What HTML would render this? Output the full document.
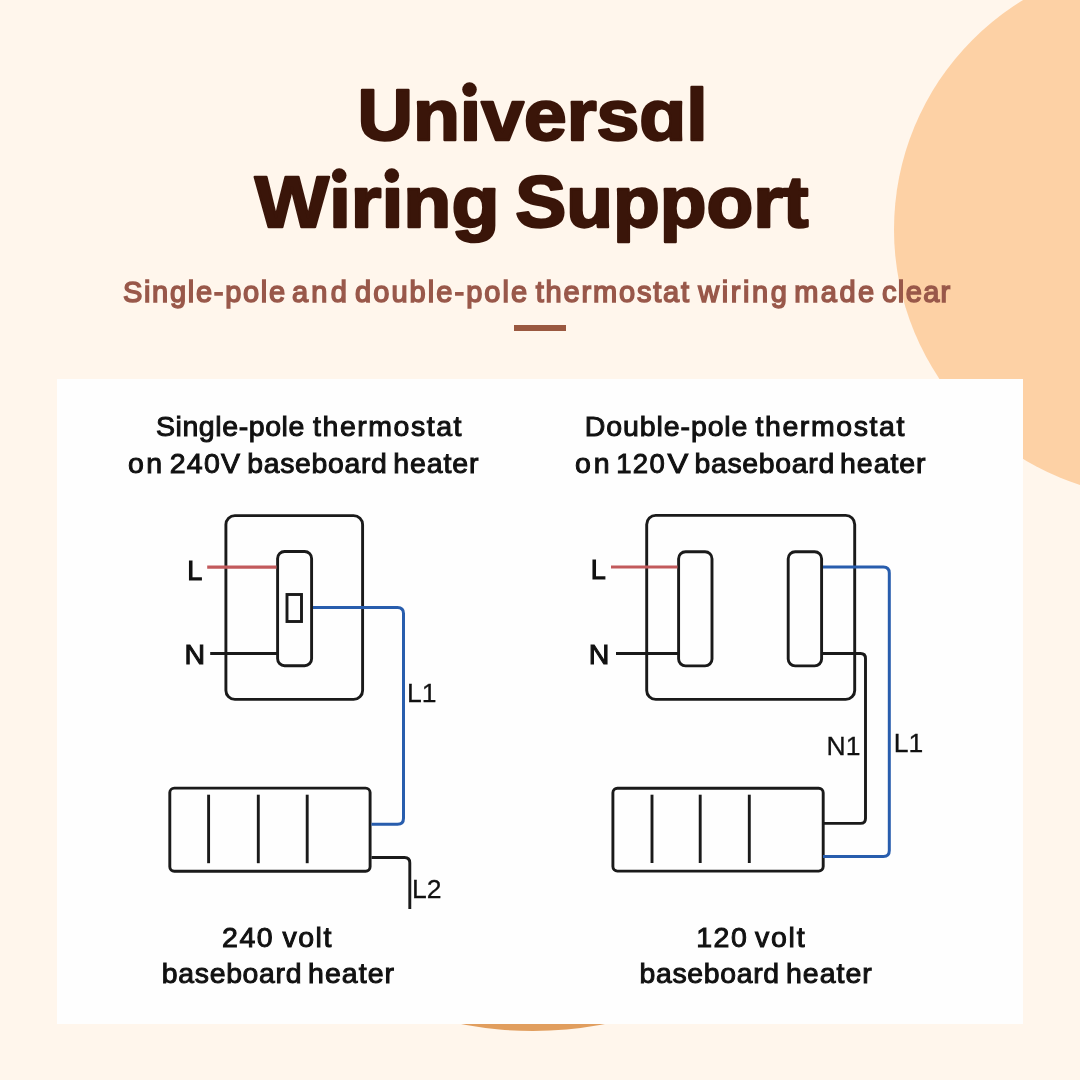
<!DOCTYPE html>
<html>
<head>
<meta charset="utf-8">
<style>
html,body{margin:0;padding:0;}
body{width:1080px;height:1080px;overflow:hidden;background:#FFF6EC;position:relative;font-family:"Liberation Sans",sans-serif;}
.circ{position:absolute;border-radius:50%;}
#c1{left:894px;top:-39px;width:537px;height:537px;background:#FDD1A5;}
#c2{left:191px;top:409.5px;width:684px;height:621px;background:#E19E5E;}
#card{position:absolute;left:57px;top:379px;width:965.5px;height:645px;background:#FEFEFE;}
svg{position:absolute;left:0;top:0;will-change:transform;}
</style>
</head>
<body>
<div class="circ" id="c1"></div>
<div class="circ" id="c2"></div>
<div id="card"></div>
<svg width="1080" height="1080" viewBox="0 0 1080 1080">
  <g font-family="Liberation Sans, sans-serif">
    <rect x="514" y="325" width="52" height="6" fill="#9A5840"/>
    <text x="357.40" y="140.2" font-size="72" font-weight="700" fill="#3A1509" stroke="#3A1509" stroke-width="2.4" stroke-linejoin="round" textLength="350.20" lengthAdjust="spacingAndGlyphs">Unıversɑl</text>
    <text x="254.70" y="226.8" font-size="72" font-weight="700" fill="#3A1509" stroke="#3A1509" stroke-width="2.4" stroke-linejoin="round" textLength="244.80" lengthAdjust="spacingAndGlyphs">Wırıng</text>
    <text x="515.20" y="226.8" font-size="72" font-weight="700" fill="#3A1509" stroke="#3A1509" stroke-width="2.4" stroke-linejoin="round" textLength="293.20" lengthAdjust="spacingAndGlyphs">Support</text>
    <circle cx="469.5" cy="89.6" r="7.3" fill="#3A1509"/>
    <circle cx="339.2" cy="175.6" r="7.3" fill="#3A1509"/>
    <circle cx="391.8" cy="175.6" r="7.3" fill="#3A1509"/>
    <text transform="translate(155.91 436.2) scale(1.000 1)" font-size="28.5" fill="#111" stroke="#111" stroke-width="1.0" textLength="148.45" lengthAdjust="spacing">Single-pole</text>
    <text transform="translate(313.07 436.2) scale(1.000 1)" font-size="28.5" fill="#111" stroke="#111" stroke-width="1.0" textLength="148.40" lengthAdjust="spacing">thermostat</text>
    <text transform="translate(128.10 473.4) scale(1.000 1)" font-size="28.5" fill="#111" stroke="#111" stroke-width="1.0" textLength="33.92" lengthAdjust="spacing">on</text>
    <text transform="translate(169.77 473.4) scale(1.000 1)" font-size="28.5" fill="#111" stroke="#111" stroke-width="1.0" textLength="70.34" lengthAdjust="spacing">240V</text>
    <text transform="translate(247.37 473.4) scale(0.996 1)" font-size="28.5" fill="#111" stroke="#111" stroke-width="1.0" textLength="140.07" lengthAdjust="spacing">baseboard</text>
    <text transform="translate(393.22 473.4) scale(1.000 1)" font-size="28.5" fill="#111" stroke="#111" stroke-width="1.0" textLength="85.27" lengthAdjust="spacing">heater</text>
    <text transform="translate(584.86 436.2) scale(1.000 1)" font-size="28.5" fill="#111" stroke="#111" stroke-width="1.0" textLength="162.59" lengthAdjust="spacing">Double-pole</text>
    <text transform="translate(755.47 436.2) scale(1.000 1)" font-size="28.5" fill="#111" stroke="#111" stroke-width="1.0" textLength="148.90" lengthAdjust="spacing">thermostat</text>
    <text transform="translate(575.10 473.4) scale(1.000 1)" font-size="28.5" fill="#111" stroke="#111" stroke-width="1.0" textLength="34.43" lengthAdjust="spacing">on</text>
    <text transform="translate(616.20 473.4) scale(0.966 1)" font-size="28.5" fill="#111" stroke="#111" stroke-width="1.0" textLength="50.28" lengthAdjust="spacing">120</text>
    <text transform="translate(667.47 473.4) scale(1.029 1)" font-size="28.5" fill="#111" stroke="#111" stroke-width="1.0" textLength="20.18" lengthAdjust="spacingAndGlyphs">V</text>
    <text transform="translate(694.57 473.4) scale(0.997 1)" font-size="28.5" fill="#111" stroke="#111" stroke-width="1.0" textLength="140.07" lengthAdjust="spacing">baseboard</text>
    <text transform="translate(840.12 473.4) scale(1.000 1)" font-size="28.5" fill="#111" stroke="#111" stroke-width="1.0" textLength="85.36" lengthAdjust="spacing">heater</text>
    <text transform="translate(222.07 946.6) scale(1.000 1)" font-size="28.5" fill="#111" stroke="#111" stroke-width="1.0" textLength="50.67" lengthAdjust="spacing">240</text>
    <text transform="translate(282.40 946.6) scale(1.000 1)" font-size="28.5" fill="#111" stroke="#111" stroke-width="1.0" textLength="48.93" lengthAdjust="spacing">volt</text>
    <text transform="translate(161.87 982.8) scale(0.997 1)" font-size="28.5" fill="#111" stroke="#111" stroke-width="1.0" textLength="140.07" lengthAdjust="spacing">baseboard</text>
    <text transform="translate(308.12 982.8) scale(1.000 1)" font-size="28.5" fill="#111" stroke="#111" stroke-width="1.0" textLength="85.89" lengthAdjust="spacing">heater</text>
    <text transform="translate(696.13 946.6) scale(1.000 1)" font-size="28.5" fill="#111" stroke="#111" stroke-width="1.0" textLength="50.64" lengthAdjust="spacing">120</text>
    <text transform="translate(755.00 946.6) scale(1.000 1)" font-size="28.5" fill="#111" stroke="#111" stroke-width="1.0" textLength="49.63" lengthAdjust="spacing">volt</text>
    <text transform="translate(639.57 982.8) scale(0.996 1)" font-size="28.5" fill="#111" stroke="#111" stroke-width="1.0" textLength="140.07" lengthAdjust="spacing">baseboard</text>
    <text transform="translate(785.92 982.8) scale(1.000 1)" font-size="28.5" fill="#111" stroke="#111" stroke-width="1.0" textLength="85.89" lengthAdjust="spacing">heater</text>
    <text transform="translate(122.93 301.8) scale(1.000 1)" font-size="29" fill="#99584A" stroke="#99584A" stroke-width="1.5" textLength="162.20" lengthAdjust="spacing">Single-pole</text>
    <text transform="translate(292.02 301.8) scale(1.000 1)" font-size="29" fill="#99584A" stroke="#99584A" stroke-width="1.5" textLength="54.76" lengthAdjust="spacing">and</text>
    <text transform="translate(355.03 301.8) scale(1.000 1)" font-size="29" fill="#99584A" stroke="#99584A" stroke-width="1.5" textLength="172.13" lengthAdjust="spacing">double-pole</text>
    <text transform="translate(535.71 301.8) scale(1.000 1)" font-size="29" fill="#99584A" stroke="#99584A" stroke-width="1.5" textLength="153.43" lengthAdjust="spacing">thermostat</text>
    <text transform="translate(698.29 301.8) scale(1.000 1)" font-size="29" fill="#99584A" stroke="#99584A" stroke-width="1.5" textLength="88.51" lengthAdjust="spacing">wiring</text>
    <text transform="translate(794.22 301.8) scale(1.000 1)" font-size="29" fill="#99584A" stroke="#99584A" stroke-width="1.5" textLength="79.92" lengthAdjust="spacing">made</text>
    <text transform="translate(882.02 301.8) scale(1.000 1)" font-size="29" fill="#99584A" stroke="#99584A" stroke-width="1.5" textLength="68.27" lengthAdjust="spacing">clear</text>

    <!-- Left diagram -->
    <g fill="none" stroke="#1a1a1a" stroke-width="2.9">
      <rect x="225.9" y="515.6" width="136.7" height="183.8" rx="9"/>
      <rect x="277.6" y="551.5" width="34" height="114.2" rx="7"/>
      <rect x="287" y="594.5" width="14.5" height="27"/>
      <line x1="210.2" y1="653.5" x2="277.5" y2="653.5"/>
      <rect x="169.8" y="788.1" width="200.3" height="83.1" rx="4.5"/>
      <line x1="208.6" y1="794.7" x2="208.6" y2="863.2"/>
      <line x1="258.3" y1="794.7" x2="258.3" y2="863.2"/>
      <line x1="307.2" y1="794.7" x2="307.2" y2="863.2"/>
      <path d="M371.5 857.5 H404.5 Q409.8 857.5 409.8 862.8 V909"/>
    </g>
    <line x1="207.2" y1="567.1" x2="276.5" y2="567.1" stroke="#C25A5C" stroke-width="3.2"/>
    <path d="M313 607.6 H397.5 Q403.5 607.6 403.5 613.6 V818.2 Q403.5 824.2 397.5 824.2 H371.5" fill="none" stroke="#285DAD" stroke-width="3"/>

    <!-- Right diagram -->
    <g fill="none" stroke="#1a1a1a" stroke-width="2.9">
      <rect x="646.7" y="515.4" width="208" height="184" rx="9"/>
      <rect x="678.6" y="551.7" width="33.4" height="114.2" rx="7"/>
      <rect x="788.2" y="551.7" width="33.4" height="114.2" rx="7"/>
      <line x1="616" y1="653.5" x2="678.7" y2="653.5"/>
      <rect x="612.9" y="788.3" width="210.3" height="82.8" rx="4.5"/>
      <line x1="652" y1="794.7" x2="652" y2="863"/>
      <line x1="700.2" y1="794.7" x2="700.2" y2="863"/>
      <line x1="749.3" y1="794.7" x2="749.3" y2="863"/>
      <path d="M823 653.5 H860.5 Q865.5 653.5 865.5 658.5 V818.4 Q865.5 823.4 860.5 823.4 H823"/>
    </g>
    <line x1="611" y1="567" x2="677.5" y2="567" stroke="#C25A5C" stroke-width="3.2"/>
    <path d="M823 567 H883.3 Q889.3 567 889.3 573 V850.4 Q889.3 856.4 883.3 856.4 H823" fill="none" stroke="#285DAD" stroke-width="3"/>

    <!-- Labels -->
    <g fill="#111">
      <text transform="translate(187.2 579.6) scale(0.95 1)" font-size="28.5" stroke="#111" stroke-width="1.1">L</text>
      <text transform="translate(184.4 663.8) scale(1.0 1)" font-size="28.5" stroke="#111" stroke-width="1.1">N</text>
      <text transform="translate(590.7 579.2) scale(0.95 1)" font-size="28.5" stroke="#111" stroke-width="1.1">L</text>
      <text transform="translate(588.7 663.8) scale(1.0 1)" font-size="28.5" stroke="#111" stroke-width="1.1">N</text>
      <text x="407" y="701.5" font-size="26.5" stroke="#111" stroke-width="0.3">L1</text>
      <text x="412" y="898.2" font-size="26.5" stroke="#111" stroke-width="0.3">L2</text>
      <text x="826.5" y="754.6" font-size="26.5" stroke="#111" stroke-width="0.3">N1</text>
      <text x="893.8" y="752.3" font-size="26.5" stroke="#111" stroke-width="0.3">L1</text>
    </g>
  </g>
</svg>
</body>
</html>
